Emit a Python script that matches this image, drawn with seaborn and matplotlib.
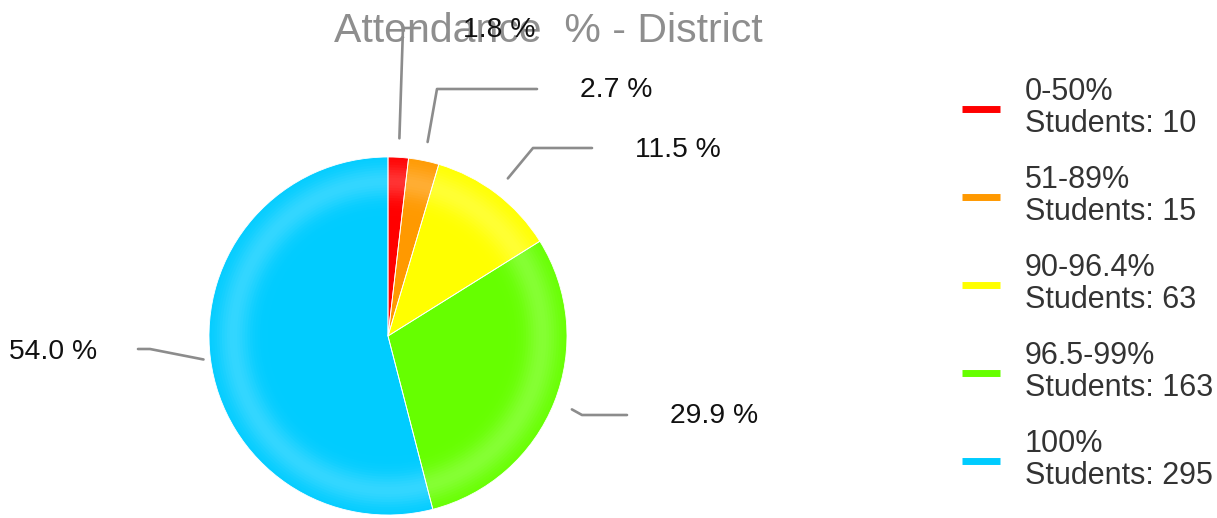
import numpy as np
import matplotlib.pyplot as plt
import matplotlib.colors as mcolors
from matplotlib.lines import Line2D
import seaborn as sns

# data
bands = ["0-50%", "51-89%", "90-96.4%", "96.5-99%", "100%"]
students = [10, 15, 63, 163, 295]
colors = ["#FF0000", "#FF9900", "#FFFF00", "#66FF00", "#00CCFF"]
title = "Attendance  % - District"

sns.set_theme(style="white")
plt.rcParams['font.family'] = ['Liberation Sans', 'DejaVu Sans']

W, H = 1217, 518
fig = plt.figure(figsize=(W / 100, H / 100), dpi=100)
ax = fig.add_axes([0, 0, 1, 1])

# pie geometry (pixel space, y up)
cx, cy, R = 388, H - 336, 179

pcts = np.array(students) / sum(students) * 100
base = [np.array(mcolors.to_rgb(c)) for c in colors]


def shade(c, rn):
    # light ring near the rim, like the original gradient
    amt = 0.2 * np.exp(-((rn - 0.87) / 0.09) ** 2)
    return tuple(c + (1 - c) * amt)


for r in np.linspace(R, 2, 70):
    wedges, _ = ax.pie(students, startangle=90, counterclock=False,
                       center=(cx, cy), radius=r,
                       colors=[shade(c, r / R) for c in base],
                       wedgeprops=dict(linewidth=0))

ax.pie(students, startangle=90, counterclock=False, center=(cx, cy), radius=R,
       wedgeprops=dict(facecolor='none', edgecolor='white', linewidth=0.6))

# labels with leader lines
label_pos = [(463, 30), (580, 90), (635, 150), (670, 416), (97, 352)]
elbows = [(403, 28), (437, 89), (533, 148), (582, 415), (150, 349)]
start_r = [198, 198, 198, 198, 186]
for w, p, (lx, ly), (ex, ey), sr in zip(wedges, pcts, label_pos, elbows, start_r):
    th = np.deg2rad((w.theta1 + w.theta2) / 2)
    sx, sy = cx + sr * np.cos(th), cy + sr * np.sin(th)
    right = np.cos(th) >= 0
    end_x = lx - 43 if right else lx + 41
    ax.plot([sx, ex, end_x], [sy, H - ey, H - ey], color='#8c8c8c', lw=1.9,
            solid_capstyle='round', zorder=3)
    ax.text(lx, H - ly, f"{p:.1f} %", fontsize=20.3, color='#111111',
            ha='left' if right else 'right', va='center', zorder=4)

ax.text(548, H - 31, title, fontsize=29.5, color='#8e8e8e',
        ha='center', va='center', zorder=1)

ax.set_xlim(0, W)
ax.set_ylim(0, H)
ax.set_aspect('auto')
ax.axis('off')

# legend
handles = [Line2D([0], [0], color=c, lw=5, solid_capstyle='butt') for c in colors]
labels = [f"{b}\nStudents: {n}" for b, n in zip(bands, students)]
leg = fig.legend(handles, labels, loc='center left',
                 bbox_to_anchor=(962 / W, 1 - 284 / H), frameon=False,
                 fontsize=22, handlelength=1.25, handletextpad=0.8,
                 labelspacing=0.86, borderpad=0, borderaxespad=0)
for t in leg.get_texts():
    t.set_linespacing(1.08)
    t.set_color('#333333')

fig.savefig('out.png', dpi=100)
